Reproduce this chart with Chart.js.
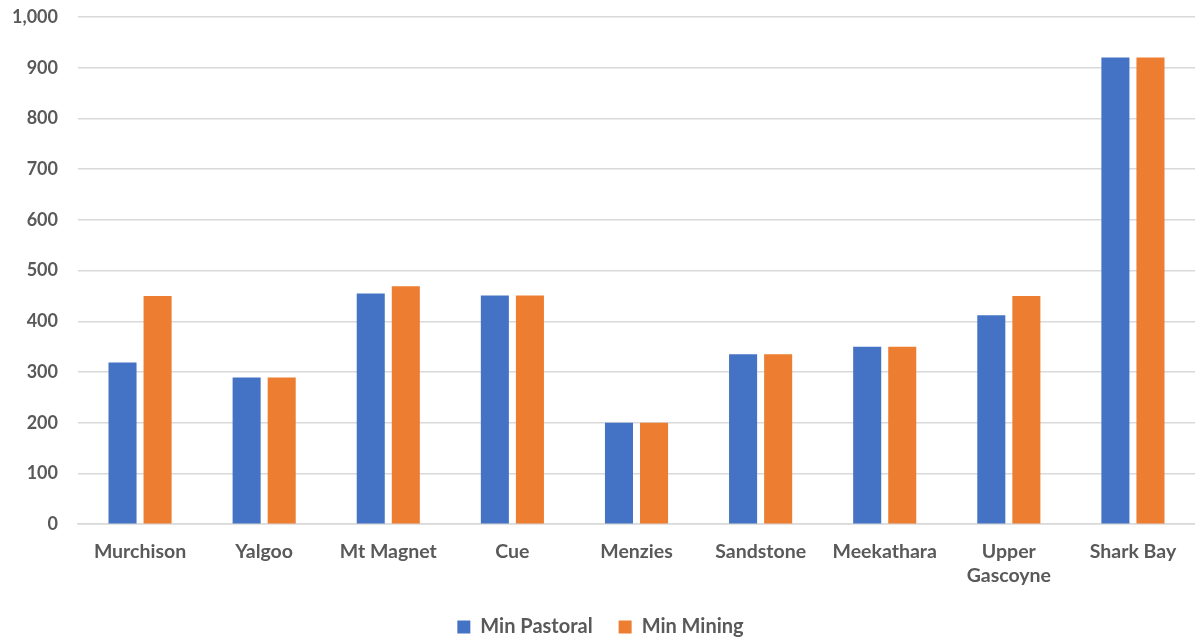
<!DOCTYPE html>
<html>
<head>
<meta charset="utf-8">
<script src="https://cdn.jsdelivr.net/npm/chart.js@4/dist/chart.umd.min.js"></script>
<style>
  html, body { margin: 0; padding: 0; background: #fff; }
  #wrap { width: 1195px; height: 638px; }
</style>
</head>
<body>
<div id="wrap"><canvas id="c"></canvas></div>
<script>
// Shires and their minimum rates
const categories = ['Murchison', 'Yalgoo', 'Mt Magnet', 'Cue', 'Menzies', 'Sandstone', 'Meekathara', ['Upper', 'Gascoyne'], 'Shark Bay'];
const minPastoral = [319, 289, 455, 451, 200, 335, 350, 412, 920];
const minMining = [450, 289, 469, 451, 200, 335, 350, 450, 920];
const yTicks = [0, 100, 200, 300, 400, 500, 600, 700, 800, 900, 1000];

const family = 'Lato, "Open Sans", sans-serif';
const grey = '#595959';

new Chart(document.getElementById('c'), {
  type: 'bar',
  data: {
    labels: categories,
    datasets: [
      { label: 'Min Pastoral', data: minPastoral, backgroundColor: '#4472c4', borderWidth: 0 },
      { label: 'Min Mining', data: minMining, backgroundColor: '#ed7d31', borderWidth: 0 }
    ]
  },
  options: {
    responsive: true,
    maintainAspectRatio: false,
    animation: false,
    datasets: { bar: { categoryPercentage: 0.565, barPercentage: 0.8 } },
    layout: { padding: { top: 0, right: 0, left: 6, bottom: -9 } },
    plugins: {
      tooltip: { enabled: false },
      legend: {
        position: 'bottom',
        labels: {
          color: grey,
          font: { family, size: 20, weight: 'bold' },
          boxWidth: 13,
          boxHeight: 13,
          padding: 26
        }
      }
    },
    scales: {
      x: {
        afterFit: (axis) => { axis.height -= 12; },
        grid: { display: false, drawTicks: false },
        border: { display: true, color: '#d9d9d9', width: 1.5 },
        ticks: {
          color: grey,
          font: { family, size: 19.5, weight: 'bold', lineHeight: 1.2 },
          padding: 16,
          maxRotation: 0,
          autoSkip: false
        }
      },
      y: {
        min: 0,
        max: 1000,
        afterBuildTicks: (axis) => { axis.ticks = yTicks.map(v => ({ value: v })); },
        afterFit: (axis) => { axis.width = 72; axis.paddingTop = 17; },
        grid: { color: '#d9d9d9', lineWidth: 1.5, drawTicks: false },
        border: { display: false },
        ticks: {
          color: grey,
          font: { family, size: 18, weight: 'bold' },
          padding: 20,
          callback: (v) => v.toLocaleString('en-US')
        }
      }
    }
  }
});
</script>
</body>
</html>
